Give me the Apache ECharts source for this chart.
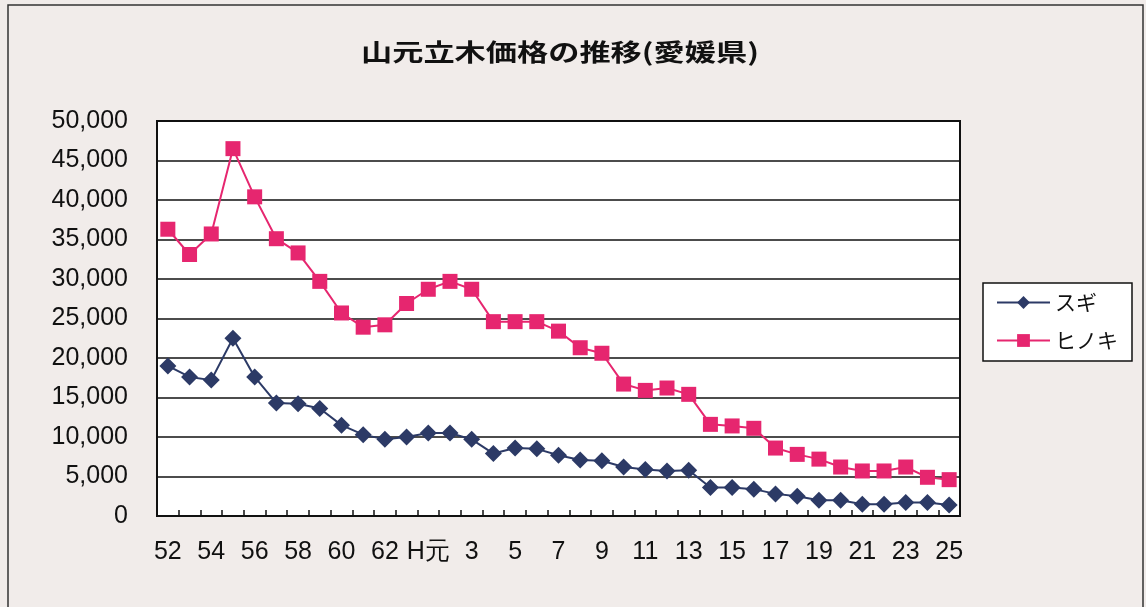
<!DOCTYPE html>
<html>
<head>
<meta charset="utf-8">
<script src="https://cdn.jsdelivr.net/npm/echarts@6/dist/echarts.min.js"></script>
<style>
  html, body { margin: 0; padding: 0; background: #f1ecea; }
  #chart { width: 1146px; height: 607px; }
</style>
</head>
<body>
<div id="chart"></div>
<script>
// 年度（昭和52年〜昭和63年、平成元年〜平成25年）
const years = ['52','53','54','55','56','57','58','59','60','61','62','63','H元',
  '2','3','4','5','6','7','8','9','10','11','12','13','14','15','16','17','18','19',
  '20','21','22','23','24','25'];

// スギ 山元立木価格（円/㎥）
const sugi = [19000, 17600, 17200, 22500, 17600, 14300, 14200, 13600, 11500, 10300,
  9700, 10000, 10500, 10500, 9700, 7900, 8600, 8500, 7700, 7100, 7000, 6200, 5900,
  5700, 5800, 3600, 3600, 3400, 2800, 2500, 2000, 2000, 1500, 1500, 1700, 1700, 1400];

// ヒノキ 山元立木価格（円/㎥）
const hinoki = [36300, 33100, 35700, 46500, 40400, 35100, 33300, 29700, 25700, 23900,
  24200, 26900, 28700, 29700, 28700, 24600, 24600, 24600, 23400, 21300, 20600, 16700,
  15900, 16200, 15400, 11600, 11400, 11100, 8600, 7800, 7200, 6200, 5700, 5700, 6200,
  4900, 4600];

const yTicks = { min: 0, max: 50000, step: 5000 };

const chart = echarts.init(document.getElementById('chart'), null, { renderer: 'canvas' });

const numFont = "'Liberation Sans', Arial, sans-serif";
const jpFont = "'Noto Sans CJK JP', sans-serif";

chart.setOption({
  backgroundColor: '#f1ecea',
  animation: false,
  graphic: [
    {
      type: 'rect',
      shape: { x: 8, y: 5, width: 1135, height: 640 },
      style: { fill: 'none', stroke: '#333', lineWidth: 1.5 },
      silent: true
    },
    {
      type: 'text',
      x: 560, y: 52,
      scaleX: 1.3,
      style: {
        text: '山元立木価格の推移(愛媛県)',
        font: 'bold 24px ' + jpFont,
        fill: '#111',
        align: 'center',
        verticalAlign: 'middle'
      }
    }
  ],
  grid: {
    left: 157, top: 121, right: 186, bottom: 91,
    show: true,
    backgroundColor: '#ffffff',
    borderColor: '#111',
    borderWidth: 2
  },
  legend: {
    orient: 'vertical',
    left: 983, top: 283,
    padding: [9, 14, 10, 13],
    itemGap: 17,
    itemWidth: 53,
    itemHeight: 16,
    backgroundColor: '#ffffff',
    borderColor: '#111',
    borderWidth: 1.5,
    borderRadius: 0,
    textStyle: { fontFamily: jpFont, fontSize: 21, color: '#111' },
    data: ['スギ', 'ヒノキ']
  },
  xAxis: {
    type: 'category',
    data: years,
    boundaryGap: true,
    axisLine: { show: true, lineStyle: { color: '#111', width: 2 } },
    axisTick: { show: true, inside: true, length: 6, interval: 0, lineStyle: { color: '#111', width: 1.5 } },
    axisLabel: {
      interval: 1,
      margin: 24,
      fontSize: 25,
      fontFamily: numFont,
      color: '#111'
    },
    splitLine: { show: false }
  },
  yAxis: {
    type: 'value',
    min: yTicks.min,
    max: yTicks.max,
    interval: yTicks.step,
    axisLine: { show: true, lineStyle: { color: '#111', width: 2 } },
    axisTick: { show: false },
    axisLabel: {
      margin: 29,
      fontSize: 25,
      fontFamily: numFont,
      color: '#111',
      formatter: v => v.toLocaleString('en-US')
    },
    splitLine: { show: true, lineStyle: { color: '#111', width: 1.5 } }
  },
  series: [
    {
      name: 'スギ',
      type: 'line',
      data: sugi,
      showSymbol: true,
      showAllSymbol: true,
      symbol: 'diamond',
      symbolSize: 17,
      itemStyle: { color: '#2c3a66' },
      lineStyle: { color: '#2c3a66', width: 2 }
    },
    {
      name: 'ヒノキ',
      type: 'line',
      data: hinoki,
      showSymbol: true,
      showAllSymbol: true,
      symbol: 'rect',
      symbolSize: 15,
      itemStyle: { color: '#e6266f' },
      lineStyle: { color: '#e6266f', width: 2 }
    }
  ]
});
</script>
</body>
</html>
